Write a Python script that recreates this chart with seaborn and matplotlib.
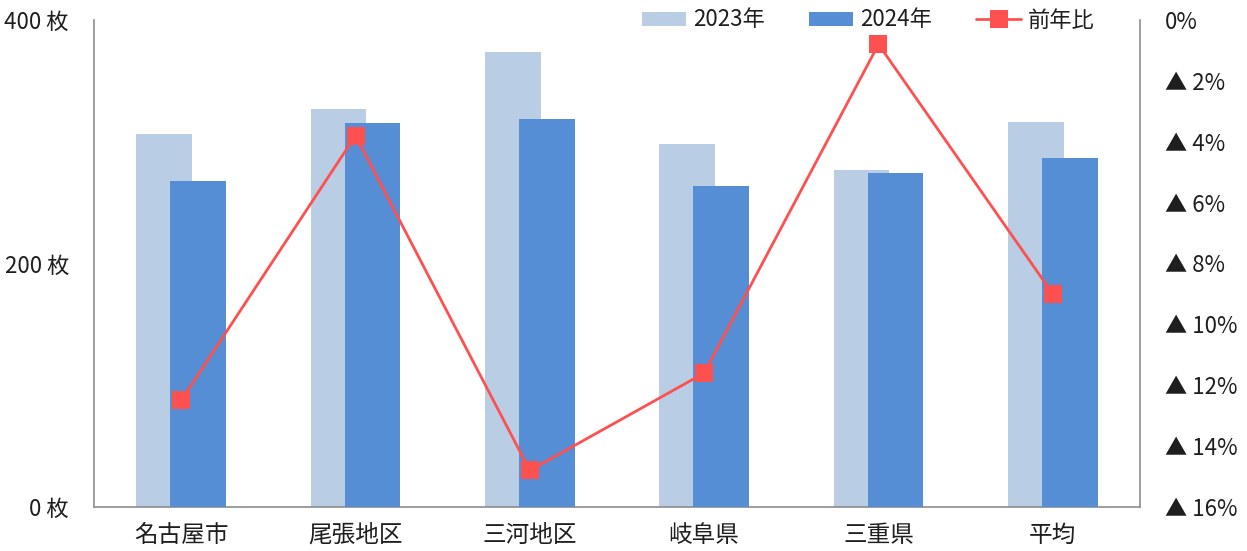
import numpy as np
import pandas as pd
import matplotlib
matplotlib.use("Agg")
import matplotlib.pyplot as plt
import seaborn as sns
from matplotlib.patches import Patch
from matplotlib.lines import Line2D

# ---- data ----
categories = ["名古屋市", "尾張地区", "三河地区", "岐阜県", "三重県", "平均"]
sales_2023 = [306, 327, 374, 298, 277, 316]
sales_2024 = [268, 315, 319, 264, 274, 287]
yoy_pct = [-12.5, -3.8, -14.8, -11.6, -0.8, -9.0]
left_ticks = [0, 200, 400]
left_tick_labels = ["0 枚", "200 枚", "400 枚"]
right_ticks = [0, -2, -4, -6, -8, -10, -12, -14, -16]
right_tick_labels = ["0%", "▲ 2%", "▲ 4%", "▲ 6%", "▲ 8%", "▲ 10%", "▲ 12%", "▲ 14%", "▲ 16%"]
legend_labels = ["2023年", "2024年", "前年比"]

C23 = "#B9CDE5"
C24 = "#558ED5"
CLINE = "#FF5050"
TXT = "#1E1E1E"
SPINE = "#8C8C8C"

sns.set_theme(style="white")
plt.rcParams["font.family"] = ["Noto Sans CJK JP", "DejaVu Sans"]

fig = plt.figure(figsize=(12.47, 5.51), dpi=100)
ax = fig.add_axes([94 / 1247, 44 / 551, (1140 - 94) / 1247, (507 - 20) / 551])

pos = np.arange(len(categories))
off = 0.0975
w = 0.32
df = pd.DataFrame({"pos": pos, "v23": sales_2023, "v24": sales_2024, "yoy": yoy_pct})

sns.barplot(x=df["pos"] - off, y=df["v23"], native_scale=True, width=w,
            color=C23, saturation=1, linewidth=0, ax=ax, zorder=2)
sns.barplot(x=df["pos"] + off, y=df["v24"], native_scale=True, width=w,
            color=C24, saturation=1, linewidth=0, ax=ax, zorder=3)

ax.set_xlim(-0.5, len(categories) - 0.5)
ax.set_ylim(0, 400)
ax.set_yticks(left_ticks)
ax.set_yticklabels(left_tick_labels)
ax.set_xticks(pos)
ax.set_xticklabels(categories, fontsize=17)
ax.set_xlabel("")
ax.set_ylabel("")
ax.tick_params(axis="both", length=0, colors=TXT)
ax.tick_params(axis="y", pad=18, labelsize=16)
ax.tick_params(axis="x", pad=12)
for s in ["top", "right"]:
    ax.spines[s].set_visible(False)
for s in ["left", "bottom"]:
    ax.spines[s].set_color(SPINE)
    ax.spines[s].set_linewidth(1.2)

ax2 = ax.twinx()
sns.lineplot(x=df["pos"], y=df["yoy"], ax=ax2, color=CLINE, linewidth=2.0,
             marker="s", markersize=13, markeredgewidth=0, zorder=5)
ax2.set_ylim(-16, 0)
ax2.set_yticks(right_ticks)
ax2.set_yticklabels(right_tick_labels)
ax2.set_ylabel("")
ax2.tick_params(axis="y", length=0, labelsize=16, colors=TXT, pad=18)
for s in ["top", "left", "bottom"]:
    ax2.spines[s].set_visible(False)
ax2.spines["right"].set_color(SPINE)
ax2.spines["right"].set_linewidth(1.2)

handles = [
    Patch(facecolor=C23, edgecolor="none"),
    Patch(facecolor=C24, edgecolor="none"),
    Line2D([0], [0], color=CLINE, linewidth=2.0, marker="s", markersize=13, markeredgewidth=0),
]
fig.legend(handles, legend_labels, loc="center", bbox_to_anchor=(868 / 1247, 1 - 20 / 551),
           ncol=3, frameon=False, fontsize=16, handlelength=2.0, handleheight=0.6,
           handletextpad=0.3, columnspacing=2.0, labelcolor=TXT)

fig.savefig("out.png", dpi=100, facecolor="white")
